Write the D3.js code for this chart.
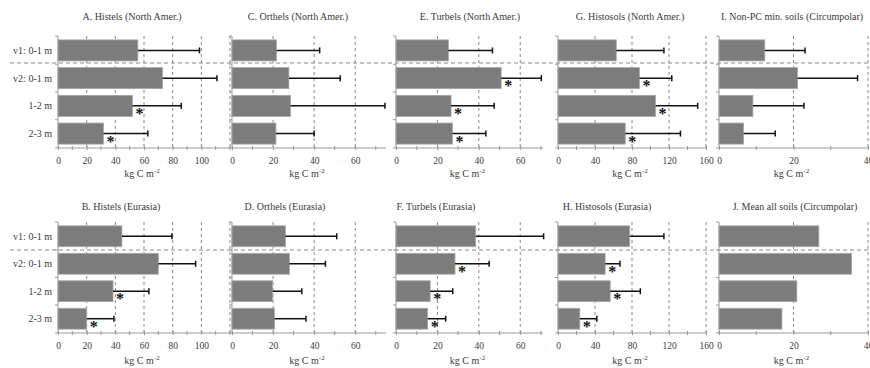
<!DOCTYPE html>
<html><head><meta charset="utf-8">
<script src="https://cdn.jsdelivr.net/npm/d3@7"></script>
<style>body{margin:0;background:#fff}svg{display:block}
.f1{font-family:"Liberation Serif","Times New Roman",serif}</style>
</head><body>
<script>
// ---- data ----
const categories = ["v1: 0-1 m", "v2: 0-1 m", "1-2 m", "2-3 m"];
const panelTitles = ["A. Histels (North Amer.)", "C. Orthels (North Amer.)", "E. Turbels (North Amer.)", "G. Histosols (North Amer.)", "I. Non-PC min. soils (Circumpolar)",
                     "B. Histels (Eurasia)", "D. Orthels (Eurasia)", "F. Turbels (Eurasia)", "H. Histosols (Eurasia)", "J. Mean all soils (Circumpolar)"];
const meansA = [55.7, 72.9, 52, 31.7],   sdA = [43, 38, 34, 31];
const meansC = [21.7, 27.7, 28.5, 21.4], sdC = [21, 25, 46, 18.6];
const meansE = [25.3, 50.8, 26.6, 27.3], sdE = [21.3, 19.4, 20.8, 16.1];
const meansG = [63, 88, 105.5, 72.7],    sdG = [51.5, 35, 45.5, 59.7];
const meansI = [12.3, 21.1, 9.1, 6.6],   sdI = [10.8, 16.1, 13.7, 8.5];
const meansB = [44.6, 70, 38.4, 20],     sdB = [34.9, 26, 25, 19];
const meansD = [26, 28, 19.8, 20.7],     sdD = [25, 17.5, 14.2, 15.3];
const meansF = [38.5, 28.5, 16.5, 15.3], sdF = [32.8, 16.5, 10.9, 8.7];
const meansH = [77.5, 51, 56.4, 23.6],   sdH = [37, 16, 32.6, 18.4];
const meansJ = [26.8, 35.6, 20.9, 16.9], sdJ = null;
const sigA = [0,0,1,1], sigC = [0,0,0,0], sigE = [0,1,1,1], sigG = [0,1,1,1], sigI = [0,0,0,0];
const sigB = [0,0,1,1], sigD = [0,0,0,0], sigF = [0,1,1,1], sigH = [0,1,1,1], sigJ = [0,0,0,0];
const ticksA = [0,20,40,60,80,100], ticksC = [0,20,40,60], ticksE = [0,20,40,60], ticksG = [0,40,80,120,160], ticksI = [0,20,40];
const xMaxA = 120, xMaxC = 75, xMaxE = 71, xMaxG = 160, xMaxI = 40;
const axisLabel = "kg C m";

// ---- layout ----
const W = 870, H = 368;
const svg = d3.select("body").append("svg").attr("width", W).attr("height", H);
const cols = [
  {x0: 58, x1: 230, max: xMaxA, ticks: ticksA, grid: [20,40,60,80,100,120], minor: 10, labels: true},
  {x0: 232, x1: 386, max: xMaxC, ticks: ticksC, grid: [20,40,60], minor: 10},
  {x0: 396, x1: 543, max: xMaxE, ticks: ticksE, grid: [20,40,60], minor: 10},
  {x0: 558, x1: 706, max: xMaxG, ticks: ticksG, grid: [40,80,120,160], minor: 20},
  {x0: 719, x1: 868, max: xMaxI, ticks: ticksI, grid: [20,40], minor: 10}
];
const rows = [
  {top: 36, bottom: 148, sep: 63, titleY: 20, labelY: 177},
  {top: 222, bottom: 333, sep: 250, titleY: 210, labelY: 364}
];
const titleX = [132, 298, 470, 630, 792, 121, 285, 436, 607, 795];
const panels = [
  [meansA, sdA, sigA], [meansC, sdC, sigC], [meansE, sdE, sigE], [meansG, sdG, sigG], [meansI, sdI, sigI],
  [meansB, sdB, sigB], [meansD, sdD, sigD], [meansF, sdF, sigF], [meansH, sdH, sigH], [meansJ, sdJ, sigJ]
];
const TXT = "#3a3a3a";

rows.forEach(r => {
  svg.append("line").attr("x1", 10).attr("x2", 870).attr("y1", r.sep).attr("y2", r.sep)
    .attr("stroke", "#8a8a8a").attr("stroke-width", 1.2).attr("stroke-dasharray", "4,3");
});

panels.forEach((p, i) => {
  const r = rows[Math.floor(i / 5)], c = cols[i % 5];
  const [means, sds, sig] = p;
  const g = svg.append("g");
  const x = d3.scaleLinear().domain([0, c.max]).range([c.x0, c.x1]);
  const y = d3.scaleBand().domain(categories).range([r.top, r.bottom]).paddingInner(0.24).paddingOuter(0.14);

  g.append("text").attr("class", "f1").attr("x", titleX[i]).attr("y", r.titleY).attr("text-anchor", "middle")
    .style("font-size", "10px").style("fill", TXT).text(panelTitles[i]);

  g.selectAll(".grid").data(c.grid).join("line")
    .attr("x1", d => x(d)).attr("x2", d => x(d)).attr("y1", r.top).attr("y2", r.bottom)
    .attr("stroke", "#8a8a8a").attr("stroke-width", 1).attr("stroke-dasharray", "3,3");

  g.selectAll(".bar").data(means).join("rect")
    .attr("x", x(0)).attr("y", (d, k) => y(categories[k]))
    .attr("width", d => x(d) - x(0)).attr("height", y.bandwidth())
    .attr("fill", "#7c7c7c").attr("stroke", "#a8a8a8").attr("stroke-width", 0.8);

  if (sds) {
    means.forEach((m, k) => {
      const cy = y(categories[k]) + y.bandwidth() / 2;
      g.append("line").attr("x1", x(m)).attr("x2", x(m + sds[k])).attr("y1", cy).attr("y2", cy)
        .attr("stroke", "#111").attr("stroke-width", 1.5);
      g.append("line").attr("x1", x(m + sds[k])).attr("x2", x(m + sds[k])).attr("y1", cy - 3).attr("y2", cy + 3)
        .attr("stroke", "#111").attr("stroke-width", 1.5);
    });
  }
  means.forEach((m, k) => {
    if (sig[k]) {
      g.append("text").attr("class", "f1").attr("x", x(m) + 3).attr("y", y(categories[k]) + y.bandwidth() / 2 + 13)
        .style("font-size", "16px").style("font-weight", "bold").style("fill", "#111").text("*");
    }
  });

  const ax = g.append("g").attr("transform", `translate(0,${r.bottom})`)
    .call(d3.axisBottom(x).tickValues(c.ticks).tickSize(3).tickPadding(6).tickFormat(d3.format("d")));
  ax.attr("font-family", null);
  ax.select(".domain").attr("stroke", "#9a9a9a").attr("d", `M${c.x0},0H${c.x1}`);
  ax.selectAll(".tick line").attr("stroke", "#9a9a9a").attr("y1", -2).attr("y2", 2);
  ax.selectAll(".tick text").attr("class", "f1").style("font-size", "9.5px").style("fill", TXT);
  const minors = d3.range(c.minor, c.max + 0.01, c.minor).filter(v => !c.ticks.includes(v));
  g.selectAll(".minor").data(minors).join("line")
    .attr("x1", d => x(d)).attr("x2", d => x(d)).attr("y1", r.bottom - 2).attr("y2", r.bottom + 2)
    .attr("stroke", "#9a9a9a");

  g.append("line").attr("x1", c.x0).attr("x2", c.x0).attr("y1", r.top).attr("y2", r.bottom).attr("stroke", "#9a9a9a");
  const bounds = [r.top].concat(categories.slice(1).map(cat => y(cat) - y.step() * y.paddingInner() / 2), [r.bottom]);
  g.selectAll(".yt").data(bounds).join("line")
    .attr("x1", c.x0 - 3).attr("x2", c.x0).attr("y1", d => d).attr("y2", d => d).attr("stroke", "#9a9a9a");
  if (c.labels) {
    g.selectAll(".yl").data(categories).join("text").attr("class", "f1")
      .attr("x", c.x0 - 6).attr("y", d => y(d) + y.bandwidth() / 2 + 3.5).attr("text-anchor", "end")
      .style("font-size", "10px").style("fill", TXT).text(d => d);
  }

  const lab = g.append("text").attr("class", "f1").attr("x", (c.x0 + c.x1) / 2 - 2).attr("y", r.labelY).attr("text-anchor", "middle")
    .style("font-size", "10px").style("fill", TXT);
  lab.append("tspan").text(axisLabel);
  lab.append("tspan").attr("dy", -4).style("font-size", "7px").text("-2");
});
</script>
</body></html>
